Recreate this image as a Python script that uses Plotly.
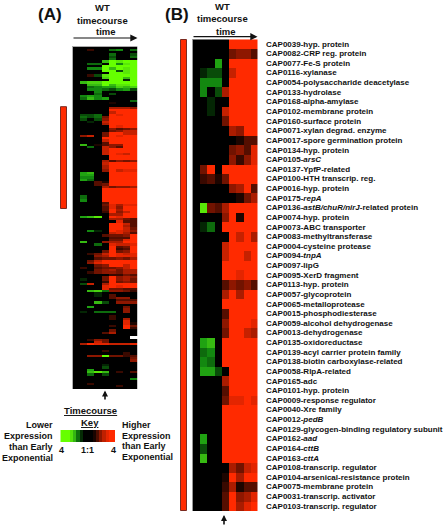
import plotly.graph_objects as go

W, H = 444, 527
# 0 = 1:1, digits = higher (red), letters a-i = lower (green), blank = no data
panel_a_rows = """000000000
00200cd0c
000000000
00000c00b
00000b00c
00000c000
0000fihii
00cc0idhi
0000iiiii
00ddifihi
0000iibhi
00000iihi
002bhiiii
0000giifi
00000iiai
0fggiiiii
00ffifhhi
00cdeegfg
00ddcbdeb
000d00000
000c0b000
0ded00000
0cfde0000
00000000c
000001000
000000000
000006665
000009999
000007999
0bbc09899
0cbc49999
0b0b59999
00a079999
000069999
000009899
000005345
000004577
000049977
057049899
000099999
000079999
000039999
0f0135599
00c075399
000079999
000079999
000079879
000009999
000009999
000063545
000079999
000069999
000069999
000059788
0ef009999
0ee009999
0dd009999
0ec009999
000319999
000349999
000064556
000099999
000099999
000099999
0c0099999
0c0099999
0d0099999
000039999
000048688
000038599
000039699
000029579
000006699
0efh09899
000006643
000000833
000009973
000009963
000009974
00da09875
000007863
000034459
000003339
000004489
0f0056699
000c08778
000009349
000009239
000049459
002479878
000569888
000344546
004799999
005899999
000459979
020344579
000456466
002455466
000002243
000049565
0a0049564
000029454
0b7069999
000089899
000084433
00fgc5542
000a00000
000a03000
000003550
000000333
000fb0555
000000000
00e000040
000000050
0a0ccc050
000000000
000002000
000002060
000000080
000000081
000002094
000000092
000004000
000036000
000000000
00000000 
002540000
000740000
069887778
000000000
000000000
000020000
000000020
0055i4423
000000004
000000005
000000000
0000a0000
0000b0000
00e000000
00fhf0203
00c0b0000
000000000
00000000d
000000000
002000000
000000200
000000000""".split("\n")

panel_b_rows = """000009999
000004553
000e09999
0abb07999
0ddd09999
0d0b69999
00a009999
00a079999
000049999
000006599
000000133
000004538
000005258
049099999
023149999
000005693
000000146
0h4369999
000059199
0ac099999
000009796
000079999
000079979
000099999
000099899
000035453
000069699
000099999
000039999
000059998
000049976
0ef099999
0cd099999
0dc099999
0eeb09999
000069999
000039999
000048898
000099999
000099999
000099999
0e0099999
0b0099999
0f0099999
000006478
000019699
000026133
000039568
000039689""".split("\n")

gene_labels = [
    "CAP0039-hyp. protein", "CAP0082-CRP reg. protein", "CAP0077-Fe-S protein",
    "CAP0116-xylanase", "CAP0054-polysaccharide deacetylase", "CAP0133-hydrolase",
    "CAP0168-alpha-amylase", "CAP0102-membrane protein", "CAP0160-surface protein",
    "CAP0071-xylan degrad. enzyme", "CAP0017-spore germination protein",
    "CAP0134-hyp. protein", "CAP0105-<i>arsC</i>", "CAP0137-YpfP-related",
    "CAP0100-HTH transcrip. reg.", "CAP0016-hyp. protein", "CAP0175-<i>repA</i>",
    "CAP0136-<i>astB/chuR/nirJ</i>-related protein", "CAP0074-hyp. protein",
    "CAP0073-ABC transporter", "CAP0083-methyltransferase", "CAP0004-cysteine protease",
    "CAP0094-<i>tnpA</i>", "CAP0097-lipG", "CAP0095-XerD fragment", "CAP0113-hyp. protein",
    "CAP0057-glycoprotein", "CAP0065-metalloprotease", "CAP0015-phosphodiesterase",
    "CAP0059-alcohol dehydrogenase", "CAP0013-dehydrogenase", "CAP0135-oxidoreductase",
    "CAP0139-acyl carrier protein family", "CAP0138-biotin carboxylase-related",
    "CAP0058-RlpA-related", "CAP0165-adc", "CAP0101-hyp. protein",
    "CAP0009-response regulator", "CAP0040-Xre family", "CAP0012-<i>pedB</i>",
    "CAP0129-glycogen-binding regulatory subunit", "CAP0162-<i>aad</i>",
    "CAP0164-<i>cttB</i>", "CAP0163-<i>cttA</i>", "CAP0108-transcrip. regulator",
    "CAP0104-arsenical-resistance protein", "CAP0075-membrane protein",
    "CAP0031-transcrip. activator", "CAP0103-transcrip. regulator",
]
key_levels = [-4, -4, -4, -3.4, -2.6, -1.4, -0.5, 0, 0, 0, 0.4, 1.2, 2.2, 3, 3.6, 4, 4]

FONT = "Liberation Sans, Arial, sans-serif"
COLORSCALE = [[0, "#66ff00"], [0.125, "#48cc12"], [0.25, "#159612"], [0.375, "#0a560a"],
              [0.5, "#000000"], [1, "#ff2a00"]]


def decode(rows):
    out = []
    for row in rows:
        vals = []
        for ch in row:
            if ch == " ":
                vals.append(None)
            elif ch.isdigit():
                vals.append(int(ch) / 9 * 4)
            else:
                vals.append(-(ord(ch) - 96) / 9 * 4)
        out.append(vals)
    return out


def px(x):
    return x / W


def py(y):
    return 1 - y / H


fig = go.Figure()


def heat(z, x0, x1, y0, y1, idx):
    fig.add_trace(go.Heatmap(z=z, zmin=-4, zmax=4, colorscale=COLORSCALE, showscale=False,
                             xaxis=f"x{idx}", yaxis=f"y{idx}", hoverongaps=False))
    fig.update_layout({
        f"xaxis{idx}": dict(domain=[px(x0), px(x1)], visible=False, anchor=f"y{idx}", fixedrange=True),
        f"yaxis{idx}": dict(domain=[py(y1), py(y0)], visible=False, anchor=f"x{idx}",
                            autorange="reversed", fixedrange=True),
    })


heat(decode(panel_a_rows), 72.7, 137.3, 46.5, 389, 1)
heat(decode(panel_b_rows), 193, 257.5, 39.3, 511, 2)
heat([key_levels], 60.3, 115, 430, 442, 3)

annotations = []


def text(s, x, y, size, anchor="center"):
    annotations.append(dict(text=s, x=px(x), y=py(y), xref="paper", yref="paper",
                            xanchor=anchor, yanchor="middle", showarrow=False,
                            font=dict(family=FONT, size=size, color="#111111"),
                            borderpad=0, borderwidth=0))


def arrow(x0, y0, x1, y1, width=1.2, size=1.2):
    annotations.append(dict(text="", x=px(x1), y=py(y1), xref="paper", yref="paper",
                            ax=x0 - x1, ay=y0 - y1, axref="pixel", ayref="pixel",
                            showarrow=True, arrowhead=2, arrowwidth=width, arrowsize=size,
                            arrowcolor="#111111"))


def b(s):
    return f"<b>{s}</b>"


text(b("(A)"), 50, 15, 17)
text(b("(B)"), 176.5, 14.5, 17)
for label, x, y in [("WT", 102, 8), ("timecourse", 102, 20.5), ("time", 105.5, 32),
                    ("WT", 222, 6.5), ("timecourse", 222, 19), ("time", 226, 31)]:
    text(b(label), x, y, 9.5)

arrow(72, 38, 137.5, 38)
arrow(192, 36.7, 257.5, 36.7)
arrow(105, 401, 105, 390.5, width=1.6, size=0.75)
arrow(224, 526, 224, 515, width=1.6, size=0.75)

text("<b><u>Timecourse</u></b>", 90, 410, 9.5)
text("<b><u>Key</u></b>", 89.5, 422.5, 9.5)
for label, y in [("Lower", 425), ("Expression", 436), ("than Early", 446.5), ("Exponential", 457.5)]:
    text(b(label), 53, y, 9, "right")
for label, y in [("Higher", 424.5), ("Expression", 435.5), ("than Early", 446), ("Exponential", 457)]:
    text(b(label), 122, y, 9, "left")
text(b("4"), 61, 449.5, 9)
text(b("1:1"), 87, 449.5, 9)
text(b("4"), 113.5, 449.5, 9)

rh = (511 - 39.3) / len(gene_labels)
for i, label in enumerate(gene_labels):
    text(b(label), 266, 39.3 + rh * (i + 0.5), 8, "left")

shapes = []
for x0, x1, y0, y1 in [(60.5, 66.5, 106.7, 208.5), (180.5, 186.5, 39.5, 510.5)]:
    shapes.append(dict(type="rect", xref="paper", yref="paper", x0=px(x0), x1=px(x1), y0=py(y0), y1=py(y1),
                       fillcolor="#ff2a00", line=dict(color="#7a2a20", width=1)))
for x0, x1, y0, y1 in [(72, 72.7, 46, 389), (72, 137.3, 46, 46.6), (192, 193, 39, 511)]:
    shapes.append(dict(type="rect", xref="paper", yref="paper", x0=px(x0), x1=px(x1), y0=py(y0), y1=py(y1),
                       fillcolor="#999999", line=dict(width=0)))

fig.update_layout(width=W, height=H, autosize=False, margin=dict(l=0, r=0, t=0, b=0),
                  paper_bgcolor="white", plot_bgcolor="white", showlegend=False,
                  annotations=annotations, shapes=shapes)
fig.write_html("out.html", config=dict(displayModeBar=False),
               post_script="document.body.style.margin='0';")
